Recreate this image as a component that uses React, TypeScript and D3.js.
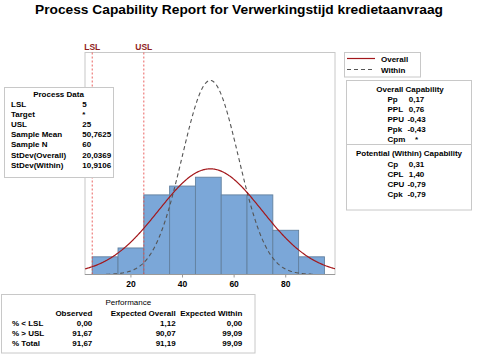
import React, { useEffect, useRef } from "react";
import * as d3 from "d3";

const binEdges = [5, 15, 25, 35, 45, 55, 65, 75, 85, 95];
const binCounts = [2, 3, 9, 10, 11, 9, 9, 5, 2];
const xTicks = [20, 40, 60, 80];

const lsl = 5;
const usl = 25;
const sampleMean = 50.7625;
const sampleN = 60;
const sdOverall = 20.0369;
const sdWithin = 10.9106;

const processLabels = ["LSL", "Target", "USL", "Sample Mean", "Sample N", "StDev(Overall)", "StDev(Within)"];
const processValues = ["5", "*", "25", "50,7625", "60", "20,0369", "10,9106"];

const overallLabels = ["Pp", "PPL", "PPU", "Ppk", "Cpm"];
const overallValues = ["0,17", "0,76", "-0,43", "-0,43", "*"];
const withinLabels = ["Cp", "CPL", "CPU", "Cpk"];
const withinValues = ["0,31", "1,40", "-0,79", "-0,79"];

const perfHeaders = ["Observed", "Expected Overall", "Expected Within"];
const perfRows = ["% < LSL", "% > USL", "% Total"];
const perfObserved = ["0,00", "91,67", "91,67"];
const perfOverall = ["1,12", "90,07", "91,19"];
const perfWithin = ["0,00", "99,09", "99,09"];

const FONT = "'Liberation Sans', Arial, sans-serif";

const App: React.FC = () => {
  const svgRef = useRef<SVGSVGElement | null>(null);

  useEffect(() => {
    if (!svgRef.current) return;
    const svg = d3.select(svgRef.current);
    svg.selectAll("*").remove();

    const width = 478;
    const height = 358;
    svg.attr("width", width).attr("height", height).style("font-family", FONT);

    svg.append("rect").attr("width", width).attr("height", height).attr("fill", "#fff");

    // title
    svg.append("text")
      .attr("x", 239).attr("y", 14)
      .attr("text-anchor", "middle")
      .attr("font-size", 13).attr("font-weight", "bold")
      .attr("textLength", 408).attr("lengthAdjust", "spacingAndGlyphs")
      .text("Process Capability Report for Verwerkingstijd kredietaanvraag");

    const plot = { left: 85, right: 335, top: 52.5, bottom: 274.5 };

    const x = d3.scaleLinear().domain([2.2, 99.1]).range([plot.left, plot.right]);
    const y = d3.scaleLinear().domain([0, 25.1]).range([plot.bottom, plot.top]);

    svg.append("rect")
      .attr("x", plot.left).attr("y", plot.top)
      .attr("width", plot.right - plot.left).attr("height", plot.bottom - plot.top)
      .attr("fill", "#fff").attr("stroke", "#c8c8c8");

    // bars
    svg.append("g")
      .selectAll("rect")
      .data(binCounts)
      .enter()
      .append("rect")
      .attr("x", (d, i) => x(binEdges[i]))
      .attr("y", d => y(d))
      .attr("width", (d, i) => x(binEdges[i + 1]) - x(binEdges[i]))
      .attr("height", d => y(0) - y(d))
      .attr("fill", "#7ba7d8")
      .attr("stroke", "#62809f")
      .attr("stroke-width", 0.9);

    // spec limits
    [{ v: lsl, t: "LSL" }, { v: usl, t: "USL" }].forEach(s => {
      svg.append("line")
        .attr("x1", x(s.v)).attr("x2", x(s.v))
        .attr("y1", plot.top).attr("y2", plot.bottom)
        .attr("stroke", "#e8504f").attr("stroke-width", 0.9)
        .attr("stroke-dasharray", "2,2");
      svg.append("text")
        .attr("x", x(s.v)).attr("y", 50)
        .attr("text-anchor", "middle")
        .attr("font-size", 8.5).attr("font-weight", "bold")
        .attr("fill", "#8f1d1d")
        .text(s.t);
    });

    // fitted curves
    const binW = binEdges[1] - binEdges[0];
    const normal = (sd: number) => (v: number) =>
      (sampleN * binW) / (sd * Math.sqrt(2 * Math.PI)) * Math.exp(-0.5 * ((v - sampleMean) / sd) ** 2);
    const line = (f: (v: number) => number, lo: number, hi: number) =>
      d3.line<number>().x(v => x(v)).y(v => y(f(v)))(d3.range(lo, hi, 0.25).concat([hi]));

    svg.append("clipPath").attr("id", "plotclip")
      .append("rect")
      .attr("x", plot.left).attr("y", plot.top)
      .attr("width", plot.right - plot.left).attr("height", plot.bottom - plot.top);

    const cg = svg.append("g").attr("clip-path", "url(#plotclip)");
    cg.append("path")
      .attr("d", line(normal(sdWithin), sampleMean - 3.7 * sdWithin, sampleMean + 3.7 * sdWithin))
      .attr("fill", "none").attr("stroke", "#555")
      .attr("stroke-width", 1.1).attr("stroke-dasharray", "4,3");
    cg.append("path")
      .attr("d", line(normal(sdOverall), 2.2, 99.1))
      .attr("fill", "none").attr("stroke", "#a3171b")
      .attr("stroke-width", 1.2);

    // x axis
    const ax = svg.append("g").attr("transform", `translate(0,${plot.bottom})`);
    ax.append("line").attr("x1", plot.left).attr("x2", plot.right).attr("stroke", "#9a9a9a");
    ax.selectAll("g.tick")
      .data(xTicks)
      .enter()
      .append("g")
      .attr("transform", d => `translate(${x(d)},0)`)
      .each(function (d) {
        const g = d3.select(this);
        g.append("line").attr("y2", 3).attr("stroke", "#9a9a9a");
        g.append("text")
          .attr("y", 12.5).attr("text-anchor", "middle")
          .attr("font-size", 8.5).attr("font-weight", "bold")
          .text(d);
      });

    const txt = (sel: any, tx: number, ty: number, s: string, anchor = "start", weight = "bold") =>
      sel.append("text")
        .attr("x", tx).attr("y", ty)
        .attr("text-anchor", anchor)
        .attr("font-size", 8).attr("font-weight", weight)
        .text(s);

    // process data box
    const pd = svg.append("g");
    pd.append("rect").attr("x", 4.5).attr("y", 87.5).attr("width", 109).attr("height", 90)
      .attr("fill", "#fff").attr("stroke", "#c8c8c8");
    txt(pd, 58.5, 97, "Process Data", "middle");
    processLabels.forEach((l, i) => {
      txt(pd, 11, 107 + i * 10.1, l);
      txt(pd, 82.3, 107 + i * 10.1, processValues[i]);
    });

    // legend
    const lg = svg.append("g");
    lg.append("rect").attr("x", 344.5).attr("y", 52.5).attr("width", 76).attr("height", 24.5)
      .attr("fill", "#fff").attr("stroke", "#c8c8c8");
    lg.append("line").attr("x1", 347).attr("x2", 375).attr("y1", 58.5).attr("y2", 58.5)
      .attr("stroke", "#a3171b").attr("stroke-width", 1.2);
    lg.append("line").attr("x1", 347).attr("x2", 375).attr("y1", 69.5).attr("y2", 69.5)
      .attr("stroke", "#555").attr("stroke-width", 1.1).attr("stroke-dasharray", "4,3");
    txt(lg, 381, 61.5, "Overall");
    txt(lg, 381, 72.5, "Within");

    // capability box
    const cb = svg.append("g");
    cb.append("rect").attr("x", 346.5).attr("y", 80.5).attr("width", 125).attr("height", 129.5)
      .attr("fill", "#fff").attr("stroke", "#c8c8c8");
    cb.append("line").attr("x1", 346.5).attr("x2", 471.5).attr("y1", 144.5).attr("y2", 144.5)
      .attr("stroke", "#c8c8c8");
    txt(cb, 410, 92, "Overall Capability", "middle");
    overallLabels.forEach((l, i) => {
      txt(cb, 387.5, 102.3 + i * 10, l);
      txt(cb, 416.5, 102.3 + i * 10, overallValues[i], "middle");
    });
    txt(cb, 409, 156, "Potential (Within) Capability", "middle");
    withinLabels.forEach((l, i) => {
      txt(cb, 387.5, 167 + i * 9.9, l);
      txt(cb, 416.5, 167 + i * 9.9, withinValues[i], "middle");
    });

    // performance box
    const pf = svg.append("g");
    pf.append("rect").attr("x", 1.5).attr("y", 294.5).attr("width", 253.5).attr("height", 58.5)
      .attr("fill", "#fff").attr("stroke", "#c8c8c8");
    txt(pf, 128.3, 305, "Performance", "middle", "normal");
    const colX = [92.3, 175.7, 242.3];
    perfHeaders.forEach((h, i) => txt(pf, colX[i], 315.7, h, "end"));
    perfRows.forEach((r, i) => {
      const yy = 325.5 + i * 10;
      txt(pf, 12, yy, r);
      txt(pf, colX[0], yy, perfObserved[i], "end");
      txt(pf, colX[1], yy, perfOverall[i], "end");
      txt(pf, colX[2], yy, perfWithin[i], "end");
    });
  }, []);

  return <svg ref={svgRef} style={{ position: "absolute", left: 0, top: 0 }}></svg>;
};

export default App;
